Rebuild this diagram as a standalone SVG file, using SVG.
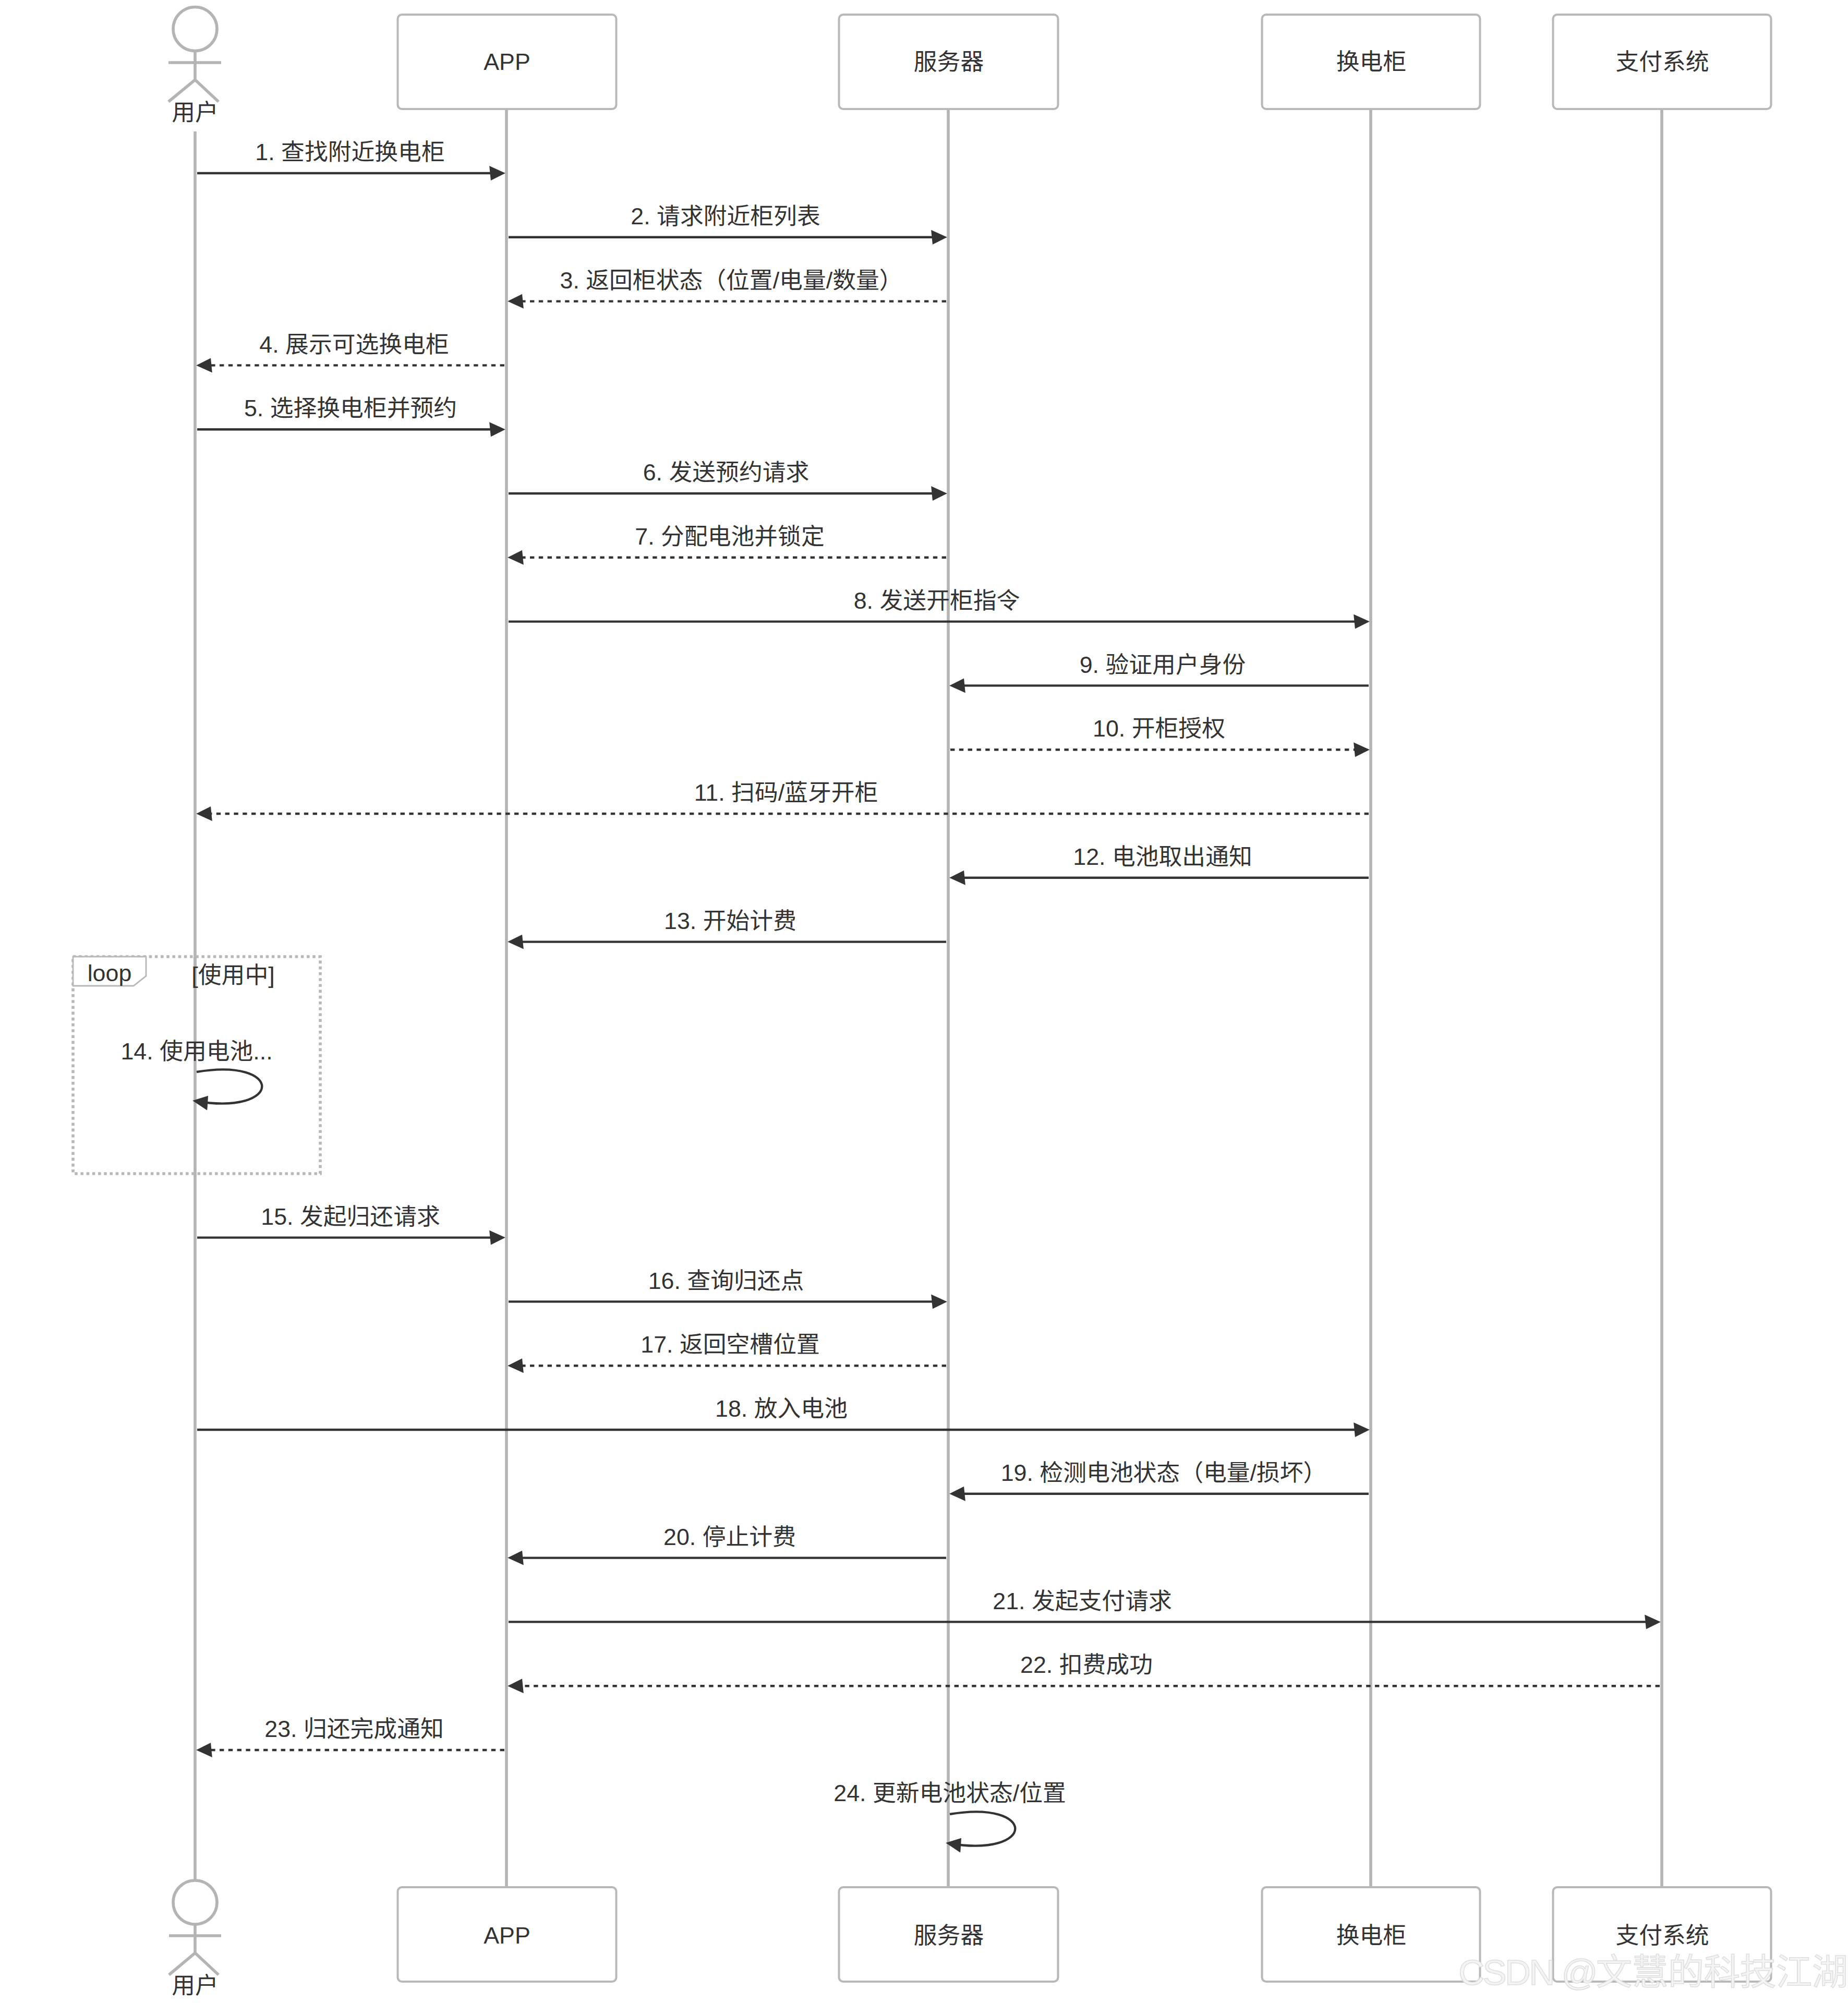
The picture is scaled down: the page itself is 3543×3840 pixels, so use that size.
<svg xmlns="http://www.w3.org/2000/svg" width="3543" height="3840" viewBox="0 0 3543 3840">
<style>
text{font-family:"Liberation Sans","Noto Sans CJK SC",sans-serif;font-size:44.8px;fill:#333;text-anchor:middle}
.box{fill:#fff;stroke:#b8b8b8;stroke-width:4}
.life{stroke:#b4b4b4;stroke-width:5.6;fill:none}
.fig{stroke:#b4b4b4;stroke-width:5.6;fill:#fff}
.msg{stroke:#333;stroke-width:4.4;fill:none;marker-end:url(#arrow)}
.dash{stroke-dasharray:8.4 8.4}
.wm{font-size:69px;fill:#f4f4f4;stroke:#dedede;stroke-width:1.5;text-anchor:end}
</style>
<defs>
<marker id="arrow" viewBox="-1 0 12 12" refX="7.9" refY="5" markerUnits="userSpaceOnUse" markerWidth="33.5" markerHeight="33.5" orient="auto"><path d="M-1 0L10 5L0 10z" fill="#333"/></marker>
</defs>
<rect width="3543" height="3840" fill="#fff"/>
<g id="lifelines">
<path class="life" d="M374 252V3603M971 209V3618M1818 209V3618M2628 209V3618M3186 209V3618"/>
</g>
<g id="loop-frame">
<rect x="140" y="1834" width="474" height="416" fill="none" stroke="#b8b8b8" stroke-width="5.6" stroke-dasharray="5.6 5.6"/>
<path d="M140 1834H280V1871L256 1890H140Z" fill="#fff" stroke="#b8b8b8" stroke-width="2.8"/>
<path class="life" d="M374 1834V1890"/>
<text x="210" y="1881">loop</text>
<text x="447" y="1885">[使用中]</text>
</g>
<g id="actor-user-top">
<circle class="fig" cx="374" cy="55.5" r="42"/>
<path class="fig" d="M374 98V153M323 120H424M323 195L374 153L419 195" style="fill:none"/>
<text x="374" y="231">用户</text>
</g>
<g id="node-app-top"><rect class="box" x="762.5" y="28" width="419" height="181" rx="8"/><text x="972" y="134">APP</text></g>
<g id="node-server-top"><rect class="box" x="1608.5" y="28" width="420" height="181" rx="8"/><text x="1819" y="134">服务器</text></g>
<g id="node-cabinet-top"><rect class="box" x="2419.5" y="28" width="418" height="181" rx="8"/><text x="2629" y="134">换电柜</text></g>
<g id="node-pay-top"><rect class="box" x="2977.5" y="28" width="418" height="181" rx="8"/><text x="3187" y="134">支付系统</text></g>
<g id="actor-user-bottom">
<circle class="fig" cx="374" cy="3647" r="42"/>
<path class="fig" d="M374 3689V3744M324 3711H424M324 3786L374 3744L419 3786" style="fill:none"/>
<text x="374" y="3822">用户</text>
</g>
<g id="node-app-bottom"><rect class="box" x="762.5" y="3618" width="419" height="181" rx="8"/><text x="972" y="3726">APP</text></g>
<g id="node-server-bottom"><rect class="box" x="1608.5" y="3618" width="420" height="181" rx="8"/><text x="1819" y="3726">服务器</text></g>
<g id="node-cabinet-bottom"><rect class="box" x="2419.5" y="3618" width="418" height="181" rx="8"/><text x="2629" y="3726">换电柜</text></g>
<g id="node-pay-bottom"><rect class="box" x="2977.5" y="3618" width="418" height="181" rx="8"/><text x="3187" y="3726">支付系统</text></g>
<g id="connectors">
<path class="msg" d="M378 332H963"/>
<path class="msg" d="M975 454.8H1810"/>
<path class="msg dash" d="M1814 577.6H979"/>
<path class="msg dash" d="M967 700.4H382"/>
<path class="msg" d="M378 823.2H963"/>
<path class="msg" d="M975 946H1810"/>
<path class="msg dash" d="M1814 1068.8H979"/>
<path class="msg" d="M975 1191.6H2620"/>
<path class="msg" d="M2624 1314.4H1826"/>
<path class="msg dash" d="M1822 1437.2H2620"/>
<path class="msg dash" d="M2624 1560H382"/>
<path class="msg" d="M2624 1682.8H1826"/>
<path class="msg" d="M1814 1805.6H979"/>
<path class="msg" d="M377 2055C544.4 2027 544.4 2139 375 2111"/>
<path class="msg" d="M378 2372.6H963"/>
<path class="msg" d="M975 2495.4H1810"/>
<path class="msg dash" d="M1814 2618.2H979"/>
<path class="msg" d="M378 2741H2620"/>
<path class="msg" d="M2624 2863.8H1826"/>
<path class="msg" d="M1814 2986.6H979"/>
<path class="msg" d="M975 3109.4H3178"/>
<path class="msg dash" d="M3182 3232.2H979"/>
<path class="msg dash" d="M967 3355H382"/>
<path class="msg" d="M1821 3478C1988.4 3450 1988.4 3562 1819 3534"/>
</g>
<g id="message-labels">
<text x="671" y="307">1. 查找附近换电柜</text>
<text x="1391" y="430">2. 请求附近柜列表</text>
<text x="1402" y="553">3. 返回柜状态（位置/电量/数量）</text>
<text x="679" y="676">4. 展示可选换电柜</text>
<text x="672" y="798">5. 选择换电柜并预约</text>
<text x="1392" y="921">6. 发送预约请求</text>
<text x="1399" y="1044">7. 分配电池并锁定</text>
<text x="1796" y="1167">8. 发送开柜指令</text>
<text x="2229" y="1290">9. 验证用户身份</text>
<text x="2222" y="1412">10. 开柜授权</text>
<text x="1507" y="1535">11. 扫码/蓝牙开柜</text>
<text x="2229" y="1658">12. 电池取出通知</text>
<text x="1400" y="1781">13. 开始计费</text>
<text x="377" y="2031">14. 使用电池...</text>
<text x="672" y="2348">15. 发起归还请求</text>
<text x="1392" y="2471">16. 查询归还点</text>
<text x="1400" y="2593">17. 返回空槽位置</text>
<text x="1498" y="2716">18. 放入电池</text>
<text x="2231" y="2839">19. 检测电池状态（电量/损坏）</text>
<text x="1399" y="2962">20. 停止计费</text>
<text x="2075" y="3085">21. 发起支付请求</text>
<text x="2083" y="3207">22. 扣费成功</text>
<text x="679" y="3330">23. 归还完成通知</text>
<text x="1821" y="3453">24. 更新电池状态/位置</text>
</g>
<text class="wm" x="3543" y="3805"><tspan letter-spacing="-3.5">CSDN @</tspan>文慧的科技江湖</text>
</svg>
